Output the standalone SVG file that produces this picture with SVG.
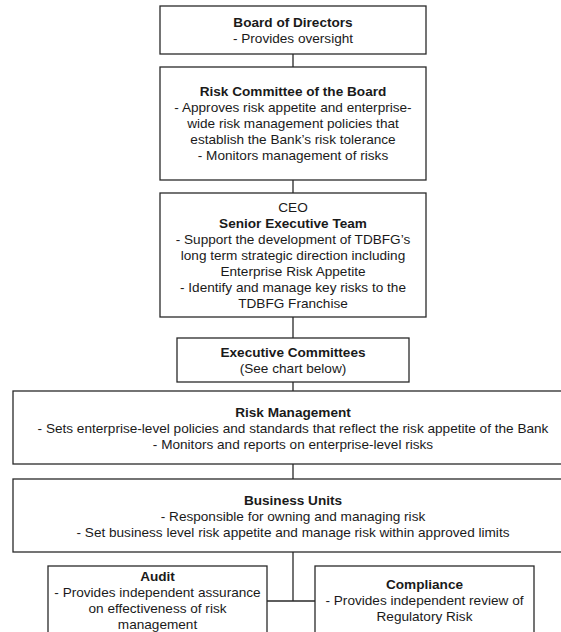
<svg xmlns="http://www.w3.org/2000/svg" width="561" height="632" viewBox="0 0 561 632">
<style>
.box{fill:#fff;stroke:#2a2a2a;stroke-width:1.3}
.t{font-family:"Liberation Sans",Arial,sans-serif;font-size:13.6px;fill:#1a1a1a;text-anchor:middle}
.b{font-weight:bold}
.c{stroke:#2a2a2a;stroke-width:1.3;fill:none}
</style>
<rect width="561" height="632" fill="#fff"/>
<g id="connectors">
<path class="c" d="M293 54V67M293 180V193M293 317V338M293 382V391M293 464V479M293 552V601M267 601H315"/>
</g>
<g id="board">
<rect class="box" x="160" y="6" width="266" height="48"/>
<text class="t b" x="293" y="27">Board of Directors</text>
<text class="t" x="293" y="43">- Provides oversight</text>
</g>
<g id="risk-committee">
<rect class="box" x="160" y="67" width="266" height="113"/>
<text class="t b" x="293" y="96">Risk Committee of the Board</text>
<text class="t" x="293" y="112">- Approves risk appetite and enterprise-</text>
<text class="t" x="293" y="128">wide risk management policies that</text>
<text class="t" x="293" y="144">establish the Bank’s risk tolerance</text>
<text class="t" x="293" y="160">- Monitors management of risks</text>
</g>
<g id="ceo">
<rect class="box" x="160" y="193" width="266" height="124"/>
<text class="t" x="293" y="212">CEO</text>
<text class="t b" x="293" y="228">Senior Executive Team</text>
<text class="t" x="293" y="244">- Support the development of TDBFG’s</text>
<text class="t" x="293" y="260">long term strategic direction including</text>
<text class="t" x="293" y="276">Enterprise Risk Appetite</text>
<text class="t" x="293" y="292">- Identify and manage key risks to the</text>
<text class="t" x="293" y="308">TDBFG Franchise</text>
</g>
<g id="executive-committees">
<rect class="box" x="177" y="338" width="232" height="44"/>
<text class="t b" x="293" y="357">Executive Committees</text>
<text class="t" x="293" y="373">(See chart below)</text>
</g>
<g id="risk-management">
<rect class="box" x="13" y="391" width="560" height="73"/>
<text class="t b" x="293" y="416.5">Risk Management</text>
<text class="t" x="293" y="432.5">- Sets enterprise-level policies and standards that reflect the risk appetite of the Bank</text>
<text class="t" x="293" y="448.5">- Monitors and reports on enterprise-level risks</text>
</g>
<g id="business-units">
<rect class="box" x="13" y="479" width="560" height="73"/>
<text class="t b" x="293" y="504.5">Business Units</text>
<text class="t" x="293" y="520.5">- Responsible for owning and managing risk</text>
<text class="t" x="293" y="536.5">- Set business level risk appetite and manage risk within approved limits</text>
</g>
<g id="audit">
<rect class="box" x="48" y="566" width="219" height="70"/>
<text class="t b" x="157.5" y="581">Audit</text>
<text class="t" x="157.5" y="597">- Provides independent assurance</text>
<text class="t" x="157.5" y="613">on effectiveness of risk</text>
<text class="t" x="157.5" y="629">management</text>
</g>
<g id="compliance">
<rect class="box" x="315" y="566" width="219" height="70"/>
<text class="t b" x="424.5" y="588.5">Compliance</text>
<text class="t" x="424.5" y="604.5">- Provides independent review of</text>
<text class="t" x="424.5" y="620.5">Regulatory Risk</text>
</g>
</svg>
